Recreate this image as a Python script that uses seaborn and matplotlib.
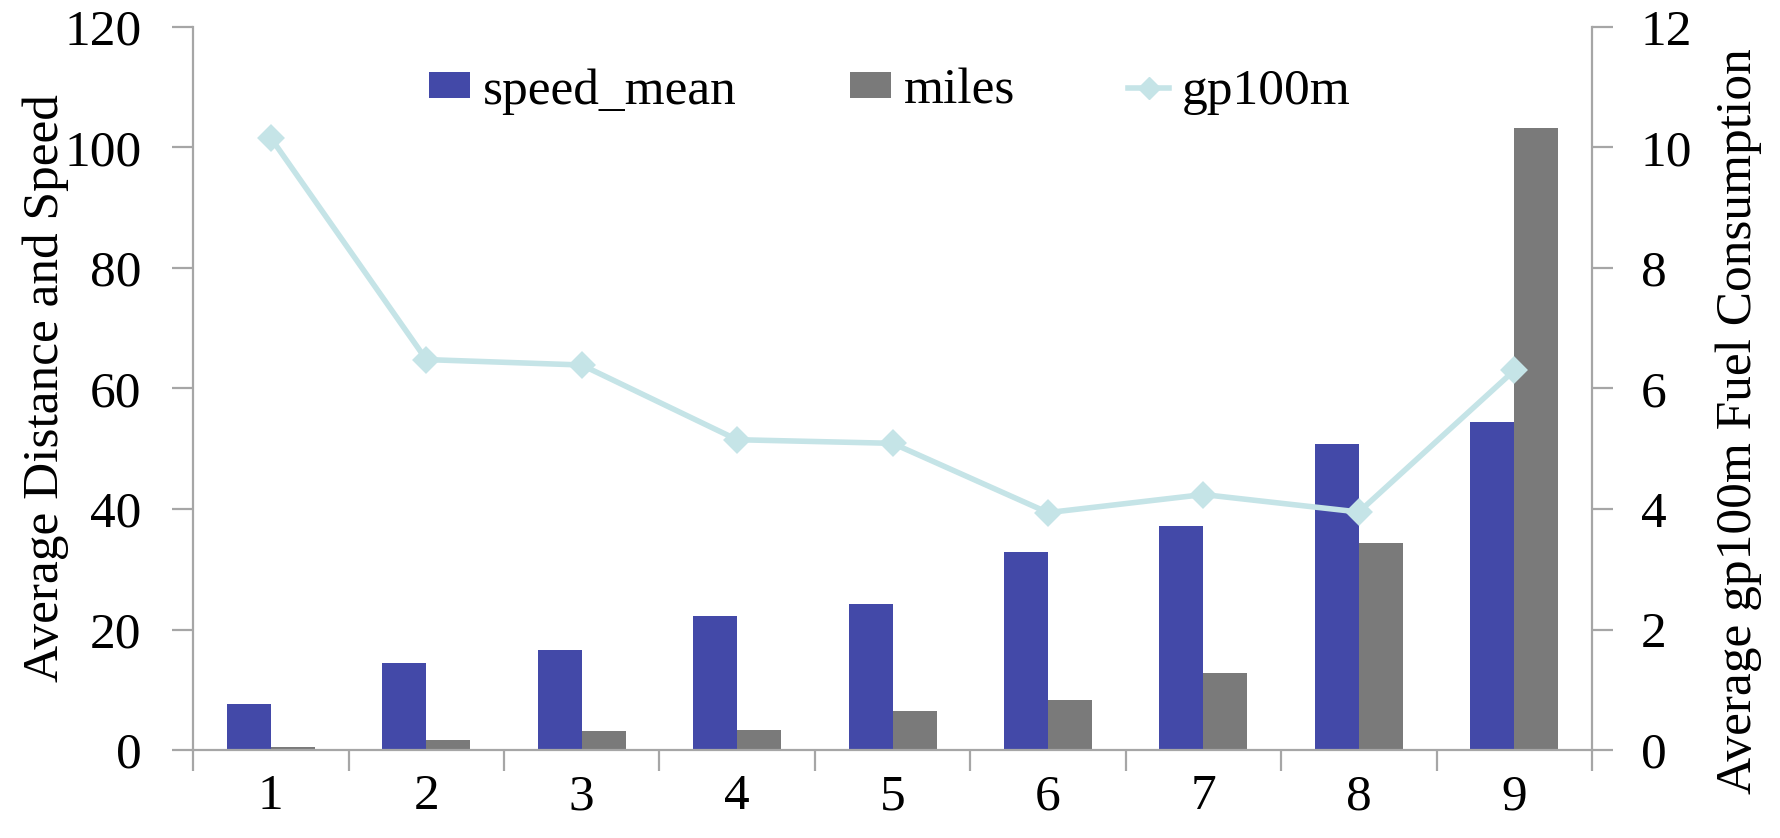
import numpy as np
import pandas as pd
import matplotlib
matplotlib.use("Agg")
import matplotlib.pyplot as plt
import seaborn as sns
from matplotlib.patches import Patch
from matplotlib.lines import Line2D

# data
categories = ["1", "2", "3", "4", "5", "6", "7", "8", "9"]
speed_mean = [7.7, 14.5, 16.6, 22.3, 24.3, 32.8, 37.1, 50.8, 54.4]
miles = [0.5, 1.6, 3.1, 3.4, 6.5, 8.3, 12.8, 34.4, 103.2]
gp100m = [10.16, 6.48, 6.39, 5.15, 5.09, 3.94, 4.24, 3.95, 6.30]

series_names = ["speed_mean", "miles", "gp100m"]
blue = "#4349A8"
gray = "#7A7A7A"
cyan = "#C5E4E7"
axis_gray = "#A6A6A6"

# plain white look, serif text (no seaborn theme so the font stays put)
plt.rcParams.update({
    "font.family": "serif",
    "font.serif": ["Liberation Serif", "DejaVu Serif"],
    "axes.facecolor": "white",
    "figure.facecolor": "white",
    "axes.grid": False,
})
fs = 37

df = pd.DataFrame({
    "group": categories * 2,
    "metric": [series_names[0]] * len(categories) + [series_names[1]] * len(categories),
    "value": speed_mean + miles,
})

fig = plt.figure(figsize=(17.81, 8.38), dpi=100)
ax = fig.add_axes([0.1084, 0.105, 0.7855, 0.8628])

sns.barplot(data=df, x="group", y="value", hue="metric", order=categories,
            palette=[blue, gray], width=0.566, saturation=1, errorbar=None,
            linewidth=0, legend=False, ax=ax)

ax2 = ax.twinx()
sns.pointplot(x=categories, y=gp100m, order=categories, color=cyan, markers="D",
              markersize=11, linewidth=4, errorbar=None, ax=ax2)

n = len(categories)
for a in (ax, ax2):
    a.set_xlim(-0.5, n - 0.5)
ax.set_ylim(0, 120)
ax2.set_ylim(0, 12)
ax.set_yticks(np.arange(0, 121, 20))
ax2.set_yticks(np.arange(0, 13, 2))

# ticks at category borders, labels at centres
ax.set_xticks(np.arange(-0.5, n, 1))
ax.set_xticklabels([])
ax.set_xticks(np.arange(n), minor=True)
ax.set_xticklabels(categories, minor=True)
ax.tick_params(axis="x", which="major", direction="out", length=15, width=1.6,
               color=axis_gray, bottom=True)
ax.tick_params(axis="x", which="minor", length=0, pad=17, labelsize=fs)
ax.tick_params(axis="y", direction="out", length=15, width=1.6, color=axis_gray,
               left=True, pad=22, labelsize=fs)
ax2.tick_params(axis="y", direction="out", length=15, width=1.6, color=axis_gray,
                right=True, pad=20, labelsize=fs)
ax2.tick_params(axis="x", bottom=False, labelbottom=False)

for s in ["top", "right"]:
    ax.spines[s].set_visible(False)
for s in ["top", "left", "bottom"]:
    ax2.spines[s].set_visible(False)
for sp in [ax.spines["left"], ax.spines["bottom"], ax2.spines["right"]]:
    sp.set_color(axis_gray)
    sp.set_linewidth(1.6)

ax.set_xlabel("")
ax.set_ylabel("Average Distance and Speed", fontsize=fs)
ax.yaxis.set_label_coords(-0.089, 0.5)
ax2.set_ylabel("Average gp100m Fuel Consumption", fontsize=fs)
ax2.yaxis.set_label_coords(1.088, 0.455)

handles = [
    Patch(facecolor=blue, edgecolor="none"),
    Patch(facecolor=gray, edgecolor="none"),
    Line2D([], [], color=cyan, marker="D", markersize=11, linewidth=4),
]
ax2.legend(handles, series_names, loc="center", bbox_to_anchor=(0.498, 0.911),
           ncol=3, frameon=False, fontsize=fs, handlelength=0.8,
           handleheight=0.4, handletextpad=0.25, columnspacing=2.2,
           borderaxespad=0, borderpad=0)

fig.savefig("out.png", dpi=100)
